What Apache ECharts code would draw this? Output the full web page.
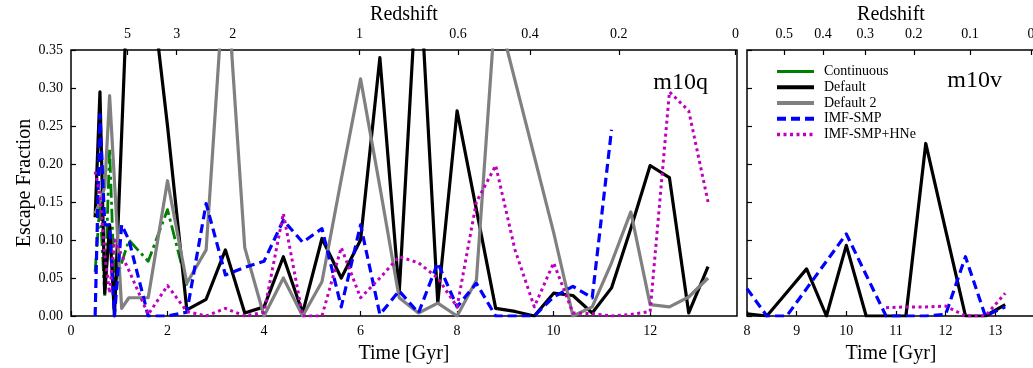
<!DOCTYPE html>
<html>
<head>
<meta charset="utf-8">
<script src="https://cdn.jsdelivr.net/npm/echarts@6/dist/echarts.min.js"></script>
<style>
html,body{margin:0;padding:0;background:#fff;}
#chart{width:1033px;height:368px;}
</style>
</head>
<body>
<div id="chart"></div>
<script>
// ---- Data (time in Gyr, escape fraction) ----
// m10q panel
const continuousQ = [[0.5,0.058],[0.6,0.15],[0.7,0.024],[0.8,0.22],[0.9,0.04],[1.2,0.1],[1.6,0.072],[2.0,0.14],[2.4,0.04]];
const defaultQ = [[0.5,0.13],[0.6,0.295],[0.7,0.03],[0.8,0.12],[0.9,0.0],[1.2,0.48],[1.6,0.47],[2.0,0.25],[2.4,0.008],[2.8,0.022],[3.2,0.087],[3.6,0.004],[4.0,0.012],[4.4,0.078],[4.8,0.004],[5.2,0.102],[5.6,0.05],[6.0,0.1],[6.4,0.34],[6.8,0.03],[7.2,0.48],[7.6,0.017],[8.0,0.27],[8.4,0.14],[8.8,0.01],[9.2,0.006],[9.6,0.0],[10.0,0.03],[10.4,0.027],[10.8,0.004],[11.2,0.037],[11.6,0.115],[12.0,0.198],[12.4,0.182],[12.8,0.004],[13.2,0.065]];
const default2Q = [[0.5,0.135],[0.6,0.15],[0.7,0.17],[0.8,0.29],[1.05,0.01],[1.2,0.024],[1.6,0.024],[2.0,0.178],[2.4,0.043],[2.8,0.087],[3.2,0.47],[3.6,0.09],[4.0,0.0],[4.4,0.05],[4.8,0.0],[5.2,0.045],[5.6,0.18],[6.0,0.312],[6.4,0.17],[6.8,0.024],[7.2,0.004],[7.6,0.017],[8.0,0.0],[8.4,0.047],[8.8,0.41],[9.2,0.31],[9.6,0.21],[10.0,0.11],[10.4,0.0],[10.8,0.012],[11.2,0.07],[11.6,0.137],[12.0,0.015],[12.4,0.012],[12.8,0.025],[13.2,0.05]];
const imfSmpQ = [[0.5,0.0],[0.6,0.265],[0.7,0.12],[0.8,0.12],[0.9,0.0],[1.05,0.12],[1.2,0.1],[1.6,0.0],[2.0,0.0],[2.4,0.005],[2.8,0.148],[3.2,0.054],[3.6,0.064],[4.0,0.072],[4.4,0.126],[4.8,0.097],[5.2,0.115],[5.6,0.012],[6.0,0.12],[6.4,0.002],[6.8,0.033],[7.2,0.004],[7.6,0.07],[8.0,0.012],[8.4,0.043],[8.8,0.0],[9.2,0.0],[9.6,0.0],[10.0,0.025],[10.4,0.039],[10.8,0.024],[11.2,0.245]];
const imfHneQ = [[0.5,0.19],[0.6,0.16],[0.7,0.08],[0.8,0.03],[0.9,0.1],[1.2,0.06],[1.6,0.002],[2.0,0.04],[2.4,0.006],[2.8,0.0],[3.2,0.01],[3.6,0.0],[4.0,0.005],[4.4,0.135],[4.8,0.0],[5.2,0.0],[5.6,0.09],[6.0,0.024],[6.4,0.05],[6.8,0.078],[7.2,0.07],[7.6,0.05],[8.0,0.012],[8.4,0.15],[8.8,0.198],[9.2,0.087],[9.6,0.012],[10.0,0.07],[10.4,0.004],[10.8,0.003],[11.2,0.0],[11.6,0.002],[12.0,0.006],[12.4,0.295],[12.8,0.27],[13.2,0.15]];
// m10v panel
const defaultV = [[8.0,0.003],[8.4,0.0],[8.8,0.031],[9.2,0.062],[9.6,0.0],[10.0,0.093],[10.4,0.0],[10.8,0.0],[11.2,0.0],[11.6,0.227],[12.0,0.113],[12.4,0.0],[12.8,0.0],[13.2,0.015]];
const imfSmpV = [[8.0,0.036],[8.4,0.0],[8.8,0.0],[9.2,0.036],[9.6,0.072],[10.0,0.108],[10.4,0.054],[10.8,0.0],[11.2,0.0],[11.6,0.0],[12.0,0.002],[12.4,0.078],[12.8,0.0],[13.2,0.012]];
const imfHneV = [[10.8,0.011],[11.2,0.012],[11.6,0.012],[12.0,0.013],[12.4,0.0],[12.8,0.0],[13.2,0.03]];

// ---- Ticks ----
const timeTicksQ = [0,2,4,6,8,10,12];
const timeTicksV = [8,9,10,11,12,13];
const redshiftLabelsQ = ['5','3','2','1','0.6','0.4','0.2','0'];
const redshiftTimesQ = [1.17,2.19,3.35,5.98,8.02,9.51,11.35,13.77];
const redshiftLabelsV = ['0.5','0.4','0.3','0.2','0.1','0'];
const redshiftTimesV = [8.75,9.53,10.38,11.36,12.49,13.72];
const seriesNames = ['Continuous','Default','Default 2','IMF-SMP','IMF-SMP+HNe'];

const FONT = 'Liberation Serif';
const C = {green:'#008000', black:'#000000', gray:'#808080', blue:'#0000ff', mag:'#bf00bf'};
const TMAX = 13.8;

const tick = {show:true, inside:true, length:5, lineStyle:{color:'#000', width:1.2}};
const lbl = {color:'#000', fontFamily:FONT, fontSize:14};

function zLookup(times, labels){
  return function(v){
    for (let i=0;i<times.length;i++){ if (Math.abs(times[i]-v) < 1e-6) return labels[i]; }
    return '';
  };
}

const chart = echarts.init(document.getElementById('chart'), null, {renderer:'canvas'});

function mk(name, data, xi, yi, color, width, type){
  return {
    name, type:'line', xAxisIndex:xi, yAxisIndex:yi, data,
    symbol:'none', showSymbol:false, animation:false, clip:true,
    lineStyle:{color, width, type, join:'round', cap:'butt'},
    itemStyle:{color}
  };
}

const dashDot = [14,4,3,4];
const dashed = [9,5];
const dotted = [3,3.5];
const titleStyle = {fontFamily:FONT, fontSize:20, color:'#000'};

chart.setOption({
  animation:false,
  backgroundColor:'#fff',
  grid:[
    {left:71, width:666, top:50, height:266, show:true, borderColor:'#000', borderWidth:1.5, backgroundColor:'transparent', outerBoundsMode:'none', containLabel:false},
    {left:747, width:288, top:50, height:266, show:true, borderColor:'#000', borderWidth:1.5, backgroundColor:'transparent', outerBoundsMode:'none', containLabel:false}
  ],
  xAxis:[
    {type:'value', gridIndex:0, position:'bottom', min:0, max:TMAX,
     name:'Time [Gyr]', nameLocation:'middle', nameGap:28, nameMoveOverlap:false, nameTextStyle:titleStyle,
     axisLine:{show:false}, splitLine:{show:false},
     axisTick:Object.assign({customValues:timeTicksQ}, tick),
     axisLabel:Object.assign({customValues:timeTicksQ, margin:8, formatter:v=>String(v)}, lbl)},
    {type:'value', gridIndex:0, position:'top', min:0, max:TMAX,
     name:'Redshift', nameLocation:'middle', nameGap:25, nameMoveOverlap:false, nameTextStyle:titleStyle,
     axisLine:{show:false}, splitLine:{show:false},
     axisTick:Object.assign({customValues:redshiftTimesQ}, tick),
     axisLabel:Object.assign({customValues:redshiftTimesQ, margin:9, formatter:zLookup(redshiftTimesQ, redshiftLabelsQ)}, lbl)},
    {type:'value', gridIndex:1, position:'bottom', min:8, max:TMAX,
     name:'Time [Gyr]', nameLocation:'middle', nameGap:28, nameMoveOverlap:false, nameTextStyle:titleStyle,
     axisLine:{show:false}, splitLine:{show:false},
     axisTick:Object.assign({customValues:timeTicksV}, tick),
     axisLabel:Object.assign({customValues:timeTicksV, margin:8, formatter:v=>String(v)}, lbl)},
    {type:'value', gridIndex:1, position:'top', min:8, max:TMAX,
     name:'Redshift', nameLocation:'middle', nameGap:25, nameMoveOverlap:false, nameTextStyle:titleStyle,
     axisLine:{show:false}, splitLine:{show:false},
     axisTick:Object.assign({customValues:redshiftTimesV}, tick),
     axisLabel:Object.assign({customValues:redshiftTimesV, margin:9, formatter:zLookup(redshiftTimesV, redshiftLabelsV)}, lbl)}
  ],
  yAxis:[
    {type:'value', gridIndex:0, min:0, max:0.35, interval:0.05,
     name:'Escape Fraction', nameLocation:'middle', nameGap:36, nameMoveOverlap:false, nameTextStyle:titleStyle,
     axisLine:{show:false}, splitLine:{show:false}, axisTick:tick,
     axisLabel:Object.assign({margin:8, formatter:v=>v.toFixed(2)}, lbl)},
    {type:'value', gridIndex:1, min:0, max:0.35, interval:0.05,
     axisLine:{show:false}, splitLine:{show:false}, axisTick:tick,
     axisLabel:{show:false}}
  ],
  legend:{
    orient:'vertical', left:770, top:59, itemWidth:37, itemHeight:10, itemGap:0.75,
    itemStyle:{opacity:0},
    textStyle:{fontFamily:FONT, fontSize:14, color:'#000', lineHeight:15, padding:[0,0,0,5]},
    data:[
      {name:'Continuous', lineStyle:{type:'solid', width:3}},
      {name:'Default', lineStyle:{width:4}},
      {name:'Default 2', lineStyle:{width:4}},
      {name:'IMF-SMP', lineStyle:{width:4}},
      {name:'IMF-SMP+HNe', lineStyle:{width:3.5}}
    ],
    selectedMode:false
  },
  graphic:[
    {type:'text', x:708, y:83, style:{text:'m10q', fill:'#000', font:'24px "Liberation Serif"', textAlign:'right', textVerticalAlign:'middle'}},
    {type:'text', x:1002, y:81, style:{text:'m10v', fill:'#000', font:'24px "Liberation Serif"', textAlign:'right', textVerticalAlign:'middle'}}
  ],
  series:[
    mk(seriesNames[0], continuousQ, 0, 0, C.green, 2.8, dashDot),
    mk(seriesNames[1], defaultQ, 0, 0, C.black, 3.2, 'solid'),
    mk(seriesNames[2], default2Q, 0, 0, C.gray, 3.2, 'solid'),
    mk(seriesNames[3], imfSmpQ, 0, 0, C.blue, 3.2, dashed),
    mk(seriesNames[4], imfHneQ, 0, 0, C.mag, 3, dotted),
    mk(seriesNames[1], defaultV, 2, 1, C.black, 3.2, 'solid'),
    mk(seriesNames[3], imfSmpV, 2, 1, C.blue, 3.2, dashed),
    mk(seriesNames[4], imfHneV, 2, 1, C.mag, 3, dotted)
  ]
});
</script>
</body>
</html>
